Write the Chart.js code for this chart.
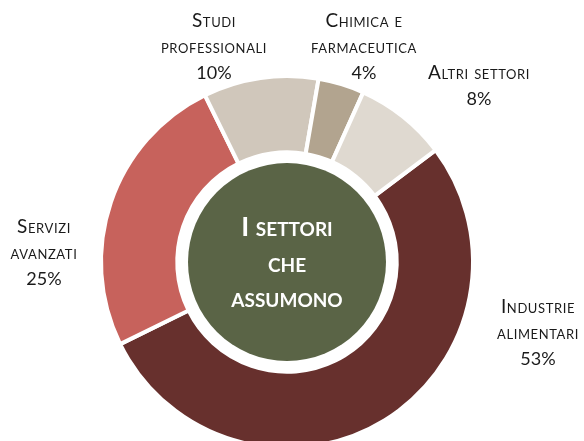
<!DOCTYPE html>
<html>
<head>
<meta charset="utf-8">
<script src="https://cdn.jsdelivr.net/npm/chart.js@4.4.1/dist/chart.umd.min.js"></script>
<style>
    html, body { margin: 0; padding: 0; background: #fff; overflow: hidden; }
    #wrap { position: relative; width: 584px; height: 524px; }
</style>
</head>
<body>
<div id="wrap"><canvas id="graficoSettori"></canvas></div>
<script>
const settori = ['Industrie alimentari', 'Servizi avanzati', 'Studi professionali', 'Chimica e farmaceutica', 'Altri settori'];
const righeEtichette = [['Industrie', 'alimentari'], ['Servizi', 'avanzati'], ['Studi', 'professionali'], ['Chimica e', 'farmaceutica'], ['Altri settori']];
const percentuali = [53, 25, 10, 4, 8];
const titoloCentro = ['I settori', 'che', 'assumono'];

const cores = ['#67302d', '#c7625c', '#d0c7bb', '#b2a48f', '#dfd9d0'];

// posizione (prima riga, baseline) di ogni etichetta rispetto al centro
const posEtichette = [[251, 51], [-243, -29], [-73, -235], [77, -235], [192, -183]];

const pluginEtichette = {
    id: 'etichette',
    afterDatasetsDraw(chart, args, opts) {
        const ctx = chart.ctx;
        const arc = chart.getDatasetMeta(0).data[0];
        const cx = arc.x, cy = arc.y;
        ctx.save();
        // cerchio centrale
        ctx.beginPath();
        ctx.arc(cx, cy, opts.raggioCentro, 0, Math.PI * 2);
        ctx.fillStyle = opts.coloreCentro;
        ctx.fill();
        ctx.textAlign = 'center';
        ctx.textBaseline = 'alphabetic';
        ctx.fillStyle = '#ffffff';
        ctx.font = 'small-caps bold 27px Lato';
        ctx.fontVariantCaps = 'small-caps';
        titoloCentro.forEach((t, i) => ctx.fillText(t, cx, cy - 26 + i * 35.5));

        // etichette esterne
        ctx.fillStyle = '#1a1a1a';
        chart.data.labels.forEach((_, i) => {
            const [dx, dy] = posEtichette[i];
            const righe = righeEtichette[i];
            ctx.font = 'small-caps 19px Lato';
            ctx.fontVariantCaps = 'small-caps';
            ctx.letterSpacing = '0.6px';
            righe.forEach((r, j) => ctx.fillText(r, cx + dx, cy + dy + j * 26));
            ctx.font = '18px Lato';
            ctx.fontVariantCaps = 'normal';
            ctx.letterSpacing = '0px';
            ctx.fillText(chart.data.datasets[0].data[i] + '%', cx + dx, cy + dy + righe.length * 26);
        });
        ctx.restore();
    }
};

const ctxSettori = document.getElementById('graficoSettori').getContext('2d');
const graficoSettori = new Chart(ctxSettori, {
    type: 'doughnut',
    data: {
        labels: settori,
        datasets: [{
            data: percentuali,
            backgroundColor: cores,
            borderColor: '#ffffff',
            borderWidth: 4
        }]
    },
    options: {
        responsive: true,
        maintainAspectRatio: false,
        animation: false,
        rotation: 53,
        radius: 186,
        cutout: '59%',
        layout: { padding: { left: 0, right: 10, top: 0, bottom: 0 } },
        plugins: {
            legend: { display: false },
            tooltip: { enabled: false },
            etichette: { raggioCentro: 99, coloreCentro: '#5a6446' }
        }
    },
    plugins: [pluginEtichette]
});
</script>
</body>
</html>
